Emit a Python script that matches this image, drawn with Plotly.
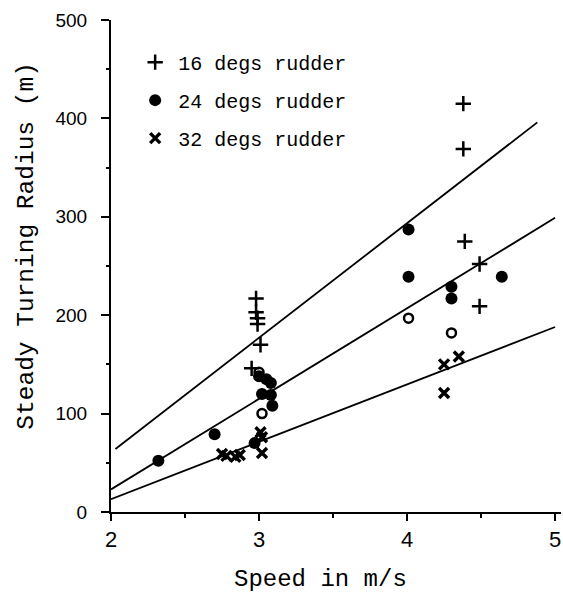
import plotly.graph_objects as go

# 16 degs rudder (+)
speed_16 = [2.98, 2.98, 2.99, 2.99, 3.01, 2.95, 4.38, 4.38, 4.39, 4.49, 4.49]
radius_16 = [217, 203, 197, 191, 170, 146, 415, 369, 275, 252, 209]

# 24 degs rudder (filled dots)
speed_24 = [2.32, 2.70, 2.97, 3.00, 3.05, 3.08, 3.02, 3.08, 3.09, 4.01, 4.01, 4.30, 4.30, 4.64]
radius_24 = [52, 79, 70, 138, 135, 131, 120, 119, 108, 287, 239, 229, 217, 239]
# 24 degs rudder points printed hollow
speed_24_hollow = [3.02, 4.01, 4.30, 3.00]
radius_24_hollow = [100, 197, 182, 142]

# 32 degs rudder (x)
speed_32 = [2.75, 2.78, 2.84, 2.87, 3.01, 3.02, 3.02, 4.25, 4.35, 4.25]
radius_32 = [59, 57, 56, 58, 81, 76, 60, 150, 158, 121]

# fitted lines (end points)
fit_16_speed = [2.03, 4.88]
fit_16_radius = [64, 396]
fit_24_speed = [2.0, 5.0]
fit_24_radius = [23, 299]
fit_32_speed = [2.0, 5.0]
fit_32_radius = [13, 188]

legend_names = ["16 degs rudder", "24 degs rudder", "32 degs rudder"]
x_title = "Speed in m/s"
y_title = "Steady Turning Radius (m)"
x_ticks = [2, 3, 4, 5]
y_ticks = [0, 100, 200, 300, 400, 500]

mono = "Liberation Mono, Courier New, monospace"
sans = "Liberation Sans, Arial, sans-serif"

fig = go.Figure()

for xs, ys in [(fit_16_speed, fit_16_radius), (fit_24_speed, fit_24_radius), (fit_32_speed, fit_32_radius)]:
    fig.add_trace(go.Scatter(x=xs, y=ys, mode="lines", line=dict(color="black", width=1.8),
                             showlegend=False, hoverinfo="skip"))

fig.add_trace(go.Scatter(x=speed_16, y=radius_16, mode="markers", name=legend_names[0],
                         legendgroup="a",
                         marker=dict(symbol="cross-thin", size=11, color="black",
                                     line=dict(color="black", width=2.5))))
fig.add_trace(go.Scatter(x=speed_24, y=radius_24, mode="markers", name=legend_names[1],
                         legendgroup="b",
                         marker=dict(symbol="circle", size=12, color="black")))
fig.add_trace(go.Scatter(x=speed_24_hollow, y=radius_24_hollow, mode="markers", showlegend=False,
                         legendgroup="b",
                         marker=dict(symbol="circle-open", size=9, color="black",
                                     line=dict(color="black", width=2.5))))
fig.add_trace(go.Scatter(x=speed_32, y=radius_32, mode="markers", name=legend_names[2],
                         legendgroup="c",
                         marker=dict(symbol="x-thin", size=10, color="black",
                                     line=dict(color="black", width=3.4))))

fig.add_annotation(text=x_title, xref="paper", yref="paper", x=0.466, y=-0.138,
                   xanchor="center", yanchor="middle", showarrow=False,
                   font=dict(family=mono, size=24, color="black"))
fig.add_annotation(text=y_title, xref="paper", yref="paper", x=-0.187, y=0.541,
                   xanchor="center", yanchor="middle", showarrow=False, textangle=-90,
                   font=dict(family=mono, size=24.5, color="black"))

fig.update_layout(
    width=563, height=596,
    margin=dict(l=111, r=2, t=20, b=84),
    paper_bgcolor="white", plot_bgcolor="white",
    showlegend=True,
    legend=dict(x=0.047, y=0.954, xanchor="left", yanchor="top",
                font=dict(family=mono, size=20, color="black"),
                traceorder="grouped", tracegroupgap=9,
                bgcolor="rgba(0,0,0,0)", itemwidth=36),
    xaxis=dict(range=[2, 5.04], tickvals=x_ticks, ticks="outside", ticklen=7, tickwidth=2,
               tickcolor="black", showline=True, linecolor="black", linewidth=2,
               showgrid=False, zeroline=False,
               tickfont=dict(family=sans, size=22, color="black"),
               minor=dict(tickvals=[2.5, 3.5, 4.5], ticks="outside", ticklen=4, tickwidth=2,
                          tickcolor="black", showgrid=False)),
    yaxis=dict(range=[0, 500], tickvals=y_ticks, ticks="outside", ticklen=8, tickwidth=2,
               tickcolor="black", showline=True, linecolor="black", linewidth=2,
               showgrid=False, zeroline=False, ticklabelstandoff=10,
               tickfont=dict(family=sans, size=19, color="black"),
               minor=dict(tickvals=[50, 150, 250, 350, 450], ticks="outside", ticklen=3,
                          tickwidth=2, tickcolor="black", showgrid=False)),
)

fig.write_html("out.html")
